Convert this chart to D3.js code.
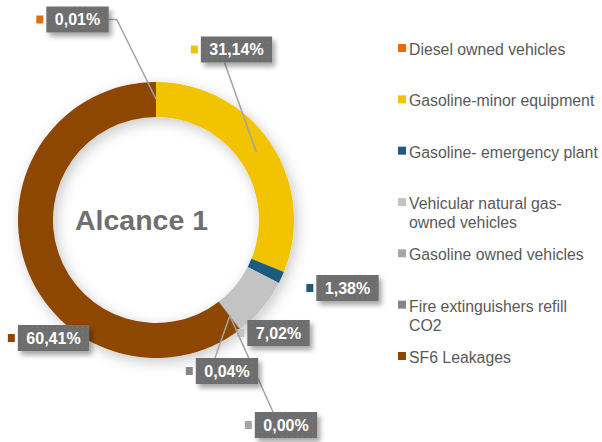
<!DOCTYPE html>
<html>
<head>
<meta charset="utf-8">
<script src="https://cdn.jsdelivr.net/npm/d3@7/dist/d3.min.js"></script>
<style>
  html, body { margin: 0; padding: 0; background: #ffffff; }
  svg { display: block; }
</style>
</head>
<body>
<svg id="chart" width="602" height="442"></svg>
<script>
// Scope 1 emission sources and their share of the total (%)
const categories = [
  "Diesel owned vehicles",
  "Gasoline-minor equipment",
  "Gasoline- emergency plant",
  "Vehicular natural gas-owned vehicles",
  "Gasoline owned vehicles",
  "Fire extinguishers refill CO2",
  "SF6 Leakages"
];
const shares = [0.01, 31.14, 1.38, 7.02, 0.00, 0.04, 60.41];
const colors = ["#E46C0A", "#F2C300", "#1F5A80", "#C3C3C3", "#A6A6A6", "#858585", "#8E4600"];
const title = "Alcance 1";

// Label boxes: centre of each value box and where its leader line leaves it
const labelLayout = [
  { cx: 77.5, cy: 19.5, leader: "right" },
  { cx: 236.5, cy: 49.5, leader: "bottom", off: -12 },
  { cx: 347.5, cy: 288, leader: null },
  { cx: 278.5, cy: 333, leader: null },
  { cx: 286, cy: 425, leader: "top", off: -13 },
  { cx: 227, cy: 371, leader: "top", off: -12 },
  { cx: 53.5, cy: 338, leader: null }
];

const data = categories.map((c, i) => ({ name: c, value: shares[i], color: colors[i] }));
const locale = d3.formatLocale({ decimal: ",", thousands: ".", grouping: [3], currency: ["", ""] });
const fmt = v => locale.format(".2f")(v) + "%";

const svg = d3.select("#chart");
const defs = svg.append("defs");

const ringShadow = defs.append("filter").attr("id", "ringShadow")
  .attr("x", "-30%").attr("y", "-30%").attr("width", "160%").attr("height", "160%");
ringShadow.append("feDropShadow").attr("dx", 3).attr("dy", 4)
  .attr("stdDeviation", 7).attr("flood-color", "#000").attr("flood-opacity", 0.22);

const boxShadow = defs.append("filter").attr("id", "boxShadow")
  .attr("x", "-30%").attr("y", "-40%").attr("width", "160%").attr("height", "190%");
boxShadow.append("feDropShadow").attr("dx", 3).attr("dy", 4)
  .attr("stdDeviation", 2.5).attr("flood-color", "#000").attr("flood-opacity", 0.35);

const dots = defs.append("pattern").attr("id", "dots")
  .attr("patternUnits", "userSpaceOnUse").attr("width", 5).attr("height", 5);
dots.append("rect").attr("width", 5).attr("height", 5).attr("fill", "#6e6e6e");
dots.append("rect").attr("x", 2).attr("y", 2).attr("width", 1).attr("height", 1).attr("fill", "#7d7d7d");

// Donut
const cx = 156, cy = 220, rOuter = 138, rInner = 103;
const pie = d3.pie().sort(null).value(d => d.value);
const arcs = pie(data);
const arc = d3.arc().innerRadius(rInner).outerRadius(rOuter);
const leaderArc = d3.arc().innerRadius(121).outerRadius(121);

const g = svg.append("g").attr("transform", `translate(${cx},${cy})`);
g.append("g").attr("filter", "url(#ringShadow)")
  .selectAll("path").data(arcs).join("path")
  .attr("d", arc).attr("fill", d => d.data.color);

svg.append("text")
  .attr("x", 75).attr("y", 230)
  .attr("font-family", "'Liberation Sans', Arial, sans-serif")
  .attr("font-weight", "bold").attr("font-size", 28.5)
  .attr("fill", "#6f6f6f")
  .text(title);

// Value labels
const labelFont = "'Liberation Sans', Arial, sans-serif";
const lblG = svg.append("g");
arcs.forEach((a, i) => {
  const L = labelLayout[i];
  const txt = fmt(a.data.value);
  const t = lblG.append("text")
    .attr("font-family", labelFont).attr("font-weight", "bold").attr("font-size", 16)
    .attr("fill", "#ffffff").attr("text-anchor", "middle")
    .attr("x", L.cx).attr("y", L.cy + 5.8).text(txt);
  const w = t.node().getComputedTextLength() + 17, h = 26;
  const bx = L.cx - w / 2, by = L.cy - h / 2;

  if (L.leader) {
    const [ex, ey] = leaderArc.centroid(a).map((v, k) => v + (k ? cy : cx));
    let pts;
    if (L.leader === "right") pts = [[bx + w, L.cy], [bx + w + 8, L.cy], [ex, ey]];
    else if (L.leader === "bottom") pts = [[L.cx + L.off, by + h], [ex, ey]];
    else pts = [[L.cx + L.off, by], [ex, ey]];
    lblG.insert("path", "text").attr("d", d3.line()(pts))
      .attr("fill", "none").attr("stroke", "#a3a3a3").attr("stroke-width", 1.5);
  }
  lblG.insert("rect", "text").attr("x", bx).attr("y", by).attr("width", w).attr("height", h)
    .attr("fill", "url(#dots)").attr("filter", "url(#boxShadow)");
  lblG.insert("rect", "text").attr("x", bx - 10).attr("y", L.cy - 4).attr("width", 7).attr("height", 8)
    .attr("fill", a.data.color);
});

// Legend
const legendY = d3.scalePoint().domain(categories).range([55, 363]);
const legend = svg.append("g");
const maxW = 190;
data.forEach(d => {
  const y = legendY(d.name);
  const item = legend.append("g");
  const text = item.append("text")
    .attr("font-family", labelFont).attr("font-size", 15.8).attr("fill", "#595959")
    .attr("x", 409).attr("y", y);
  // wrap on spaces and hyphens
  const tokens = d.name.match(/[^\s-]+-?\s*|\s+/g);
  let lines = [], cur = "";
  const probe = text.append("tspan");
  tokens.forEach(tok => {
    probe.text((cur + tok).trimEnd());
    if (cur && probe.node().getComputedTextLength() > maxW) { lines.push(cur.trimEnd()); cur = tok; }
    else cur += tok;
  });
  lines.push(cur.trimEnd());
  probe.remove();
  lines.forEach((ln, k) => text.append("tspan").attr("x", 409).attr("dy", k ? 19 : 0).text(ln));
  item.append("rect").attr("x", 398).attr("y", y - 11).attr("width", 8).attr("height", 8)
    .attr("fill", d.color);
});
</script>
</body>
</html>
